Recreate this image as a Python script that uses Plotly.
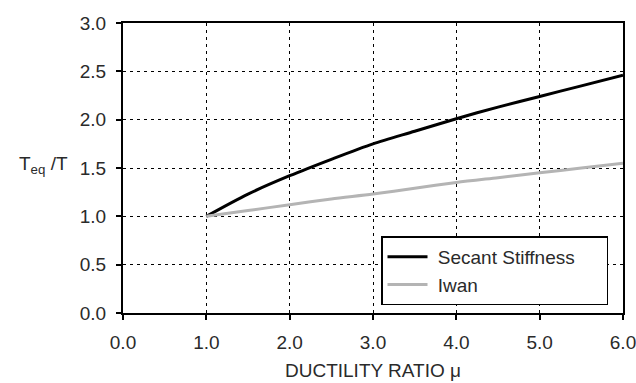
import plotly.graph_objects as go

ductility = [1.0, 1.5, 2.0, 2.5, 3.0, 3.5, 4.0, 4.5, 5.0, 5.5, 6.0]
secant = [1.0, 1.23, 1.42, 1.59, 1.75, 1.88, 2.01, 2.13, 2.24, 2.35, 2.46]
iwan = [1.0, 1.06, 1.12, 1.18, 1.23, 1.29, 1.35, 1.40, 1.45, 1.50, 1.55]
series_names = ["Secant Stiffness", "Iwan"]
x_ticks = [0, 1, 2, 3, 4, 5, 6]
x_tick_labels = ["0.0", "1.0", "2.0", "3.0", "4.0", "5.0", "6.0"]
y_ticks = [0, 0.5, 1.0, 1.5, 2.0, 2.5, 3.0]
y_tick_labels = ["0.0", "0.5", "1.0", "1.5", "2.0", "2.5", "3.0"]

FONT = "Liberation Sans, Arial, sans-serif"
TXT = "#2a2a2a"
NB = "\u00a0"

fig = go.Figure()
fig.add_trace(go.Scatter(x=ductility, y=secant, mode="lines",
                         name=NB + series_names[0] + NB * 5,
                         line=dict(color="black", width=3, shape="spline", smoothing=0.8)))
fig.add_trace(go.Scatter(x=ductility, y=iwan, mode="lines",
                         name=NB + series_names[1],
                         line=dict(color="#b4b4b4", width=3, shape="spline", smoothing=0.8)))

axis_common = dict(
    showline=True, linecolor="black", linewidth=2, mirror=True,
    ticks="outside", ticklen=5, tickcolor="black", tickwidth=2,
    showgrid=True, gridcolor="black", gridwidth=1, griddash="3px,4px",
    zeroline=False, automargin=False, ticklabeloverflow="allow",
    tickfont=dict(family=FONT, size=19, color=TXT),
)

fig.update_xaxes(range=[0, 6], tickvals=x_ticks, ticktext=x_tick_labels,
                 ticklabelstandoff=6,
                 title=dict(text="DUCTILITY RATIO μ", font=dict(family=FONT, size=19, color=TXT),
                            standoff=12),
                 **axis_common)
fig.update_yaxes(range=[0, 3], tickvals=y_ticks, ticktext=y_tick_labels,
                 ticklabelstandoff=6, **axis_common)

fig.add_annotation(text="T<sub>eq</sub> /T", xref="paper", yref="paper",
                   x=-0.16, y=0.512, xanchor="center", yanchor="middle", showarrow=False,
                   font=dict(family=FONT, size=19, color=TXT))

fig.update_layout(
    width=636, height=383,
    margin=dict(l=123, r=13, t=23, b=70),
    paper_bgcolor="white", plot_bgcolor="white",
    showlegend=True,
    legend=dict(x=0.516, y=0.264, xanchor="left", yanchor="top",
                bgcolor="white", bordercolor="black", borderwidth=1.5,
                font=dict(family=FONT, size=19, color=TXT),
                itemwidth=40),
)

fig.write_html("out.html")
